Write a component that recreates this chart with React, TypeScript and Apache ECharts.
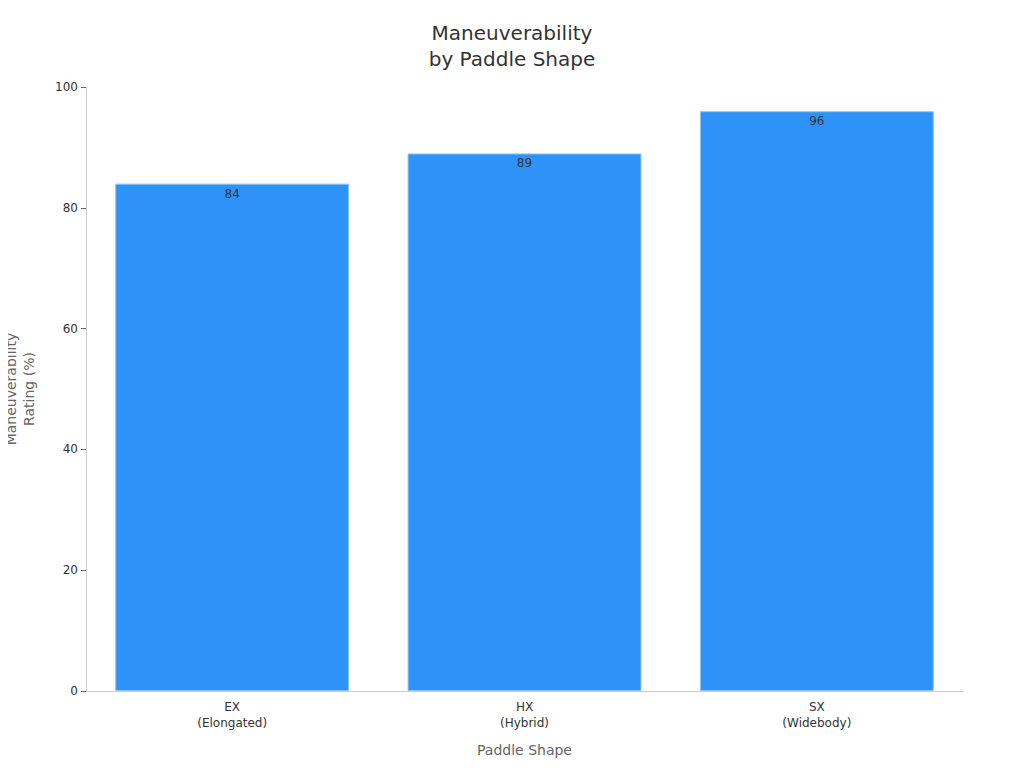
import React, { useEffect, useRef } from "react";
import * as echarts from "echarts";

const categories = ["EX\n(Elongated)", "HX\n(Hybrid)", "SX\n(Widebody)"];
const values = [84, 89, 96];
const yTicks = [0, 20, 40, 60, 80, 100];

export default function App() {
  const ref = useRef<HTMLDivElement>(null);
  useEffect(() => {
    const chart = echarts.init(ref.current!, null, { renderer: "svg" });
    const font = "DejaVu Sans";
    chart.setOption({
      animation: false,
      textStyle: { fontFamily: font },
      title: {
        text: "Maneuverability\nby Paddle Shape",
        left: "center",
        top: 15,
        textStyle: { fontFamily: font, fontSize: 20, fontWeight: "normal", color: "#333", lineHeight: 26 },
      },
      grid: { left: 86, right: 61, top: 87, bottom: 77, outerBoundsMode: "none", containLabel: false },
      xAxis: {
        type: "category",
        data: categories,
        name: "Paddle Shape",
        nameLocation: "middle",
        nameGap: 52,
        nameTextStyle: { color: "#666", fontSize: 14, fontFamily: font },
        axisLine: { lineStyle: { color: "#ccc" } },
        axisTick: { alignWithLabel: true, lineStyle: { color: "#666" }, length: 5 },
        axisLabel: { color: "#333", fontSize: 12, lineHeight: 16, margin: 8, fontFamily: font },
      },
      yAxis: {
        type: "value",
        min: yTicks[0],
        max: yTicks[yTicks.length - 1],
        interval: 20,
        name: "Maneuverability\nRating (%)",
        nameLocation: "middle",
        nameGap: 48,
        nameTextStyle: { color: "#666", fontSize: 14, lineHeight: 18, fontFamily: font },
        axisLine: { show: true, lineStyle: { color: "#ccc" } },
        axisTick: { show: true, lineStyle: { color: "#666" }, length: 5 },
        axisLabel: { color: "#333", fontSize: 12, margin: 8, fontFamily: font },
        splitLine: { show: false },
      },
      series: [
        {
          type: "bar",
          data: values,
          barCategoryGap: "20%",
          itemStyle: { color: "#2e93f9", borderColor: "#8fc3f7", borderWidth: 1 },
          label: {
            show: true,
            position: "insideTop",
            distance: 4,
            color: "#333",
            fontSize: 12,
            fontFamily: font,
          },
        },
      ],
    });
    return () => chart.dispose();
  }, []);
  return <div ref={ref} style={{ width: 1024, height: 768, margin: -8 }} />;
}
